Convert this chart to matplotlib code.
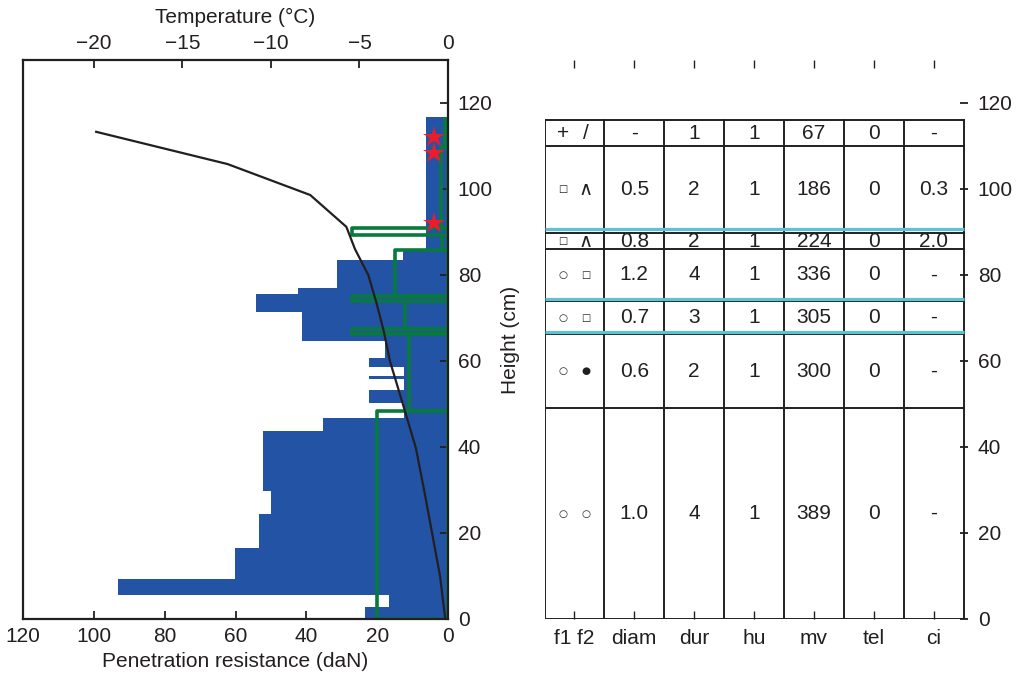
import matplotlib
matplotlib.use('Agg')
import matplotlib.pyplot as plt
from matplotlib.patches import Rectangle
import numpy as np

plt.rcParams['font.family'] = ['Liberation Sans', 'DejaVu Sans']
plt.rcParams['font.size'] = 15

# ---------------- data ----------------
# ram (penetration) resistance profile: layer bottom, top (cm), value (daN)
ram_bottom = [0, 2.9, 5.6, 9.3, 16.4, 24.4, 29.8, 43.7, 46.8, 50.3, 53.3, 55.8, 56.4, 58.7, 60.6, 64.7, 71.5, 75.6, 76.9, 83.5, 85.8]
ram_top    = [2.9, 5.6, 9.3, 16.4, 24.4, 29.8, 43.7, 46.8, 50.3, 53.3, 55.8, 56.4, 58.7, 60.6, 64.7, 71.5, 75.6, 76.9, 83.5, 85.8, 116.7]
ram_value  = [23.4, 16.6, 93.2, 60.1, 53.4, 50.0, 52.2, 35.3, 12.4, 22.2, 12.4, 22.2, 12.4, 22.2, 17.8, 41.2, 54.2, 42.3, 31.3, 12.6, 6.1]

# hand hardness profile (drawn as layer rectangles, daN scale)
hh_bottom = [0, 48.4, 66.2, 67.4, 74.0, 75.2, 85.9, 89.3, 91.0, 109.7]
hh_top    = [48.4, 66.2, 67.4, 74.0, 75.2, 85.9, 89.3, 91.0, 109.7, 116.3]
hh_value  = [20.0, 11.0, 27.0, 12.1, 27.0, 15.0, 1.6, 27.0, 2.1, 0.9]

# temperature profile
temp_height = [0.5, 10, 20, 30, 39.7, 50, 60, 67, 73.5, 80, 86, 91.2, 98.6, 105.8, 113.3]
temp_value  = [-0.17, -0.45, -0.9, -1.35, -1.81, -2.55, -3.28, -3.63, -4.04, -4.5, -5.25, -5.74, -7.78, -12.45, -19.87]

# stars (markers at heights)
star_height = [112.2, 108.3, 92.0]
star_x = [4.0, 4.0, 4.0]

# table of layers
layer_bounds = [0, 49, 66.2, 74, 86, 89.8, 110, 116]   # bottom -> top
crust_height = [66.7, 74.4, 90.7]
col_labels = ['f1 f2', 'diam', 'dur', 'hu', 'mv', 'tel', 'ci']
# rows from bottom to top
f1   = ['○', '○', '○', '○', '□', '□', '+']
f2   = ['○', '●', '□', '□', '∧', '∧', '/']
diam = ['1.0', '0.6', '0.7', '1.2', '0.8', '0.5', '-']
dur  = ['4', '2', '3', '4', '2', '2', '1']
hu   = ['1', '1', '1', '1', '1', '1', '1']
mv   = ['389', '300', '305', '336', '224', '186', '67']
tel  = ['0', '0', '0', '0', '0', '0', '0']
ci   = ['-', '-', '-', '-', '2.0', '0.3', '-']

# ---------------- styling ----------------
BLUE = '#2353A5'
GREEN = '#087A3E'
RED = '#EC1C2A'
CYAN = '#5BC3D4'
DARK = '#231F20'
FS = 15
SYM_SIZE = {'○': 7.5, '●': 7.5, '□': 7, '∧': 14}

W, H = 1019, 679
fig = plt.figure(figsize=(W / 100, H / 100), dpi=100)


def px_axes(x0, y0, x1, y1):
    return fig.add_axes([x0 / W, 1 - y1 / H, (x1 - x0) / W, (y1 - y0) / H])


# ---------------- left panel ----------------
ax = px_axes(23, 60, 448, 619)
ax.set_xlim(120, 0)
ax.set_ylim(0, 130)

rb = np.array(ram_bottom)
rt = np.array(ram_top)
ax.barh(rb, ram_value, height=rt - rb, left=0, align='edge', color=BLUE, linewidth=0, zorder=1)

for b, t, v in zip(hh_bottom, hh_top, hh_value):
    ax.add_patch(Rectangle((0, b), v, t - b, fill=False, edgecolor=GREEN,
                           linewidth=2.6, joinstyle='round', zorder=2))

ax.plot(star_x, star_height, linestyle='none', marker='*', markersize=16,
        color=RED, markeredgewidth=0, zorder=5)

for s in ax.spines.values():
    s.set_linewidth(1.6)
    s.set_color(DARK)
    s.set_zorder(6)

ax.set_xticks([120, 100, 80, 60, 40, 20, 0])
ax.set_yticks([0, 20, 40, 60, 80, 100, 120])
ax.yaxis.tick_right()
ax.yaxis.set_label_position('right')
ax.tick_params(axis='both', direction='in', length=6, width=1.3, color=DARK,
               labelsize=FS, labelcolor=DARK)
ax.tick_params(axis='y', pad=7)
ax.tick_params(axis='x', pad=6)
ax.set_xlabel('Penetration resistance (daN)', fontsize=FS, color=DARK, labelpad=4)
ax.set_ylabel('Height (cm)', fontsize=FS, color=DARK, labelpad=6)

ax2 = ax.twiny()
ax2.set_xlim(-24, 0)
ax2.plot(temp_value, temp_height, color=DARK, linewidth=1.6, zorder=3)
ax2.set_xticks([-20, -15, -10, -5, 0])
ax2.tick_params(axis='x', direction='in', length=6, width=1.3, color=DARK,
                labelsize=FS, labelcolor=DARK, pad=5)
ax2.set_xlabel('Temperature (°C)', fontsize=FS, color=DARK, labelpad=8)
for s in ax2.spines.values():
    s.set_visible(False)

# ---------------- right panel (layer table) ----------------
axr = px_axes(544.5, 60, 968, 619)
axr.set_xlim(0, 7.075)
axr.set_ylim(0, 130)
for s in axr.spines.values():
    s.set_visible(False)

ncol = len(col_labels)
top = layer_bounds[-1]
for yb in layer_bounds:
    axr.plot([0, ncol], [yb, yb], color=DARK, linewidth=1.4, solid_capstyle='projecting', zorder=2)
for xc in range(ncol + 1):
    axr.plot([xc, xc], [0, top], color=DARK, linewidth=1.4, solid_capstyle='projecting', zorder=2)
for yc in crust_height:
    axr.plot([0, ncol], [yc, yc], color=CYAN, linewidth=2.3, zorder=3, solid_capstyle='butt')

columns = [diam, dur, hu, mv, tel, ci]
for i in range(len(layer_bounds) - 1):
    yc = (layer_bounds[i] + layer_bounds[i + 1]) / 2
    for j, col in enumerate(columns):
        axr.text(j + 1.5, yc, col[i], ha='center', va='center', fontsize=FS, color=DARK, zorder=4)
    for sym, xo in ((f1[i], 0.31), (f2[i], 0.69)):
        if sym in '+/':
            axr.text(xo, yc, sym, ha='center', va='center', fontsize=FS, color=DARK, zorder=4)
        else:
            axr.text(xo, yc, sym, ha='center', va='center', fontsize=SYM_SIZE[sym], color=DARK,
                     family=['DejaVu Sans'], zorder=4)

axr.set_xticks(np.arange(ncol) + 0.5)
axr.set_xticklabels(col_labels)
axr.set_yticks([0, 20, 40, 60, 80, 100, 120])
axr.yaxis.tick_right()
axr.tick_params(axis='x', direction='in', length=6, width=1.0, color=DARK,
                top=True, bottom=True, labeltop=False, labelbottom=True,
                labelsize=FS, labelcolor=DARK, pad=7)
axr.tick_params(axis='y', direction='in', length=6, width=1.3, color=DARK,
                labelsize=FS, labelcolor=DARK, pad=7)

fig.savefig('out.png', dpi=100)
